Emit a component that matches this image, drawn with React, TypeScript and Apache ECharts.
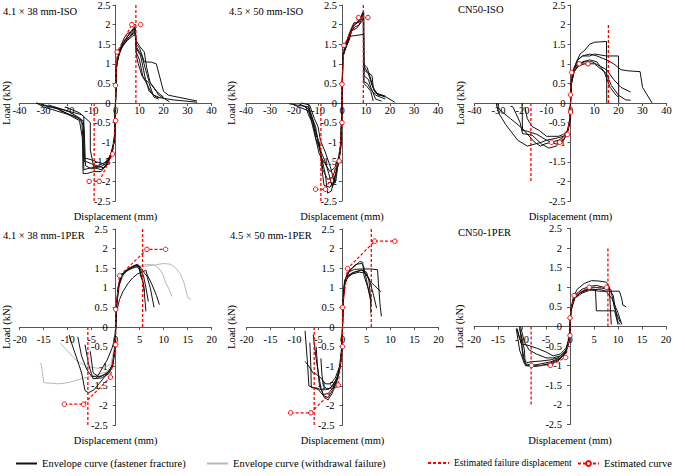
import { useEffect, useRef } from "react";
import * as echarts from "echarts";

const FONT = "'Liberation Serif', 'Times New Roman', serif";

const panelTitles = [
  "4.1 × 38 mm-ISO",
  "4.5 × 50 mm-ISO",
  "CN50-ISO",
  "4.1 × 38 mm-1PER",
  "4.5 × 50 mm-1PER",
  "CN50-1PER",
];

const FRACTURE = "Envelope curve (fastener fracture)";
const WITHDRAWAL = "Envelope curve (withdrawal failure)";
const FAILURE = "Estimated failure displacement";
const ESTIMATED = "Estimated curve";

// displacement range of the axes (mm) and tick step
const isoRange = [-40, 40, 10];
const perRange = [-20, 20, 5];
// load range (kN) and tick step
const loadRange = [-2.5, 2.5, 0.5];

// envelope curves, points are [displacement mm, load kN]
const iso41Curves = [
  [[0, 0], [0.4, 0.95], [1.5, 1.25], [3, 1.5], [5, 1.7], [7, 1.8], [8.3, 1.9], [8.6, 1.5], [10, 1.4], [12, 1.05], [15, 1.04], [17, 1.0], [20, 0.3], [22, 0.2], [34, 0.05]],
  [[0, 0], [0.3, 0.9], [1.5, 1.3], [3.5, 1.55], [5.5, 1.75], [8, 1.95], [8.5, 1.45], [11, 1.2], [13, 0.75], [14, 0.55], [16, 0.4], [18, 0.2], [22.5, 0.03]],
  [[0, 0], [0.5, 1.0], [2, 1.35], [4, 1.55], [6, 1.7], [8.2, 1.85], [8.6, 1.3], [10, 1.1], [11.5, 0.65], [13, 0.5], [15, 0.25], [17, 0.15], [24, 0.08], [34, 0.02]],
  [[0, 0], [0.3, 0.85], [1.2, 1.2], [3, 1.45], [5, 1.6], [7, 1.7], [8.4, 1.75], [8.7, 1.2], [9.5, 1.0], [11, 0.7], [12.5, 0.6], [14, 0.3], [16, 0.2], [18, 0.15]],
  [[0, 0], [0.4, 1.0], [1.5, 1.3], [3.5, 1.65], [5, 1.78], [6.5, 1.8], [8, 1.92], [8.5, 1.6], [10, 1.45], [12, 1.3], [13, 0.9], [14.5, 0.5], [17, 0.3], [20, 0.15]],
  [[0, 0], [0.5, 1.05], [2, 1.4], [4, 1.6], [6, 1.7], [8.3, 1.8], [8.6, 1.4], [10.5, 1.2], [12.5, 0.6], [14, 0.5], [16, 0.15], [18, 0.1]],
  [[0, 0], [-0.3, -0.8], [-1, -1.15], [-2.5, -1.4], [-4, -1.5], [-7, -1.6], [-10, -1.65], [-13.2, -1.7], [-13.5, -1.0], [-14, -0.5], [-16, -0.35], [-22, -0.25], [-30, -0.1], [-33, 0]],
  [[0, 0], [-0.4, -0.9], [-1.5, -1.25], [-3, -1.45], [-5, -1.55], [-8, -1.5], [-10, -1.45], [-13, -1.4], [-13.4, -0.6], [-14.5, -0.4], [-20, -0.2], [-28, -0.05]],
  [[0, 0], [-0.5, -1.0], [-2, -1.35], [-4, -1.6], [-6, -1.75], [-9, -1.75], [-12, -1.8], [-13.5, -1.8], [-13.8, -0.9], [-15, -0.45], [-18, -0.35], [-24, -0.15], [-31, -0.05]],
  [[0, 0], [-0.3, -0.85], [-1.2, -1.2], [-3, -1.5], [-5, -1.65], [-7, -1.62], [-10, -1.55], [-12, -1.5], [-13, -1.5], [-13.2, -0.35], [-15, -0.25], [-21, -0.1]],
  [[0, 0], [-0.5, -0.95], [-2, -1.3], [-4, -1.55], [-6, -1.62], [-10, -1.68], [-12.5, -1.6], [-13, -0.75], [-13.5, -0.45], [-19, -0.3], [-26, -0.1]],
  [[0, 0], [-0.4, -0.9], [-1.5, -1.3], [-3.5, -1.58], [-6, -1.7], [-9, -1.65], [-10.5, -1.2], [-10.5, -0.5], [-14, -0.3], [-33, 0]],
];

const iso45Curves = [
  [[0, 0], [0.3, 1.2], [1, 1.35], [3, 1.6], [4.5, 1.95], [6.5, 2.05], [8.8, 2.3], [9, 1.0], [10.5, 0.9], [12, 0.6], [13.5, 0.3], [16, 0.2], [18, 0.15]],
  [[0, 0], [0.4, 1.25], [1.5, 1.45], [3, 1.75], [5, 2.0], [7, 2.1], [9, 2.35], [9.1, 0.85], [11, 0.75], [12.5, 0.45], [14, 0.25], [17, 0.2], [22, 0.02]],
  [[0, 0], [0.3, 1.15], [1.2, 1.35], [3, 1.7], [9, 1.75], [9.1, 0.55], [10.5, 0.5], [12, 0.35], [14, 0.2], [18, 0.1]],
  [[0, 0], [0.4, 1.2], [1.5, 1.4], [3.5, 1.8], [5.5, 1.95], [7, 1.98], [9, 2.25], [9.1, 0.95], [10.5, 0.8], [12.5, 0.7], [13, 0.4], [15, 0.2], [18, 0.18]],
  [[0, 0], [0.3, 1.2], [1, 1.3], [2.5, 1.55], [4, 1.85], [6, 1.9], [8.5, 2.1], [9, 2.2], [9.1, 0.7], [11, 0.6], [12, 0.4], [14, 0.1], [16.5, 0.05]],
  [[0, 0], [0.35, 1.25], [1.5, 1.5], [3.5, 1.85], [5, 2.05], [7, 2.05], [9, 2.3], [9.1, 0.5], [10, 0.45], [12, 0.3], [13, 0.05]],
  [[0, 0], [-0.5, -1.1], [-1.5, -1.55], [-3, -1.9], [-4.5, -2.25], [-6, -2.3], [-7, -1.8], [-8.5, -1.4], [-10, -1.0], [-11, -0.6], [-13, -0.3], [-14, -0.1], [-22, -0.02]],
  [[0, 0], [-0.4, -1.0], [-1.2, -1.45], [-2.5, -1.8], [-4, -2.15], [-5.5, -1.8], [-7, -1.5], [-9, -1.2], [-10.5, -0.8], [-12, -0.5], [-14, -0.2], [-20, -0.05]],
  [[0, 0], [-0.5, -1.05], [-1.5, -1.5], [-2.5, -1.95], [-3, -2.05], [-5, -1.6], [-7, -1.25], [-9, -0.95], [-10, -0.6], [-11.5, -0.4], [-13.5, -0.05], [-17, 0]],
  [[0, 0], [-0.4, -1.0], [-1.3, -1.5], [-2.8, -1.7], [-4, -1.9], [-6, -1.95], [-8, -1.7], [-9.5, -1.0], [-11, -0.8], [-12, -0.55], [-14, -0.3], [-15, -0.1], [-18, -0.02]],
  [[0, 0], [-0.5, -1.15], [-1.8, -1.6], [-3.5, -2.0], [-5, -2.15], [-7.5, -2.1], [-8.5, -1.6], [-9, -1.2], [-11, -0.9], [-13, -0.4], [-14, -0.15], [-16, -0.08]],
  [[0, 0], [-0.4, -1.0], [-1.5, -1.4], [-3, -1.65], [-5, -1.75], [-7, -1.55], [-9.5, -1.3], [-11, -0.9], [-12, -0.45], [-14, -0.05]],
];

const isoCn50Curves = [
  [[0, 0], [0.3, 0.55], [1, 0.8], [2.5, 1.05], [4, 1.25], [6, 1.35], [8, 1.5], [10, 1.55], [15, 1.57], [15.1, 0]],
  [[0, 0], [0.3, 0.5], [1, 0.75], [3, 1.1], [5, 1.2], [8, 1.2], [10, 1.25], [15, 1.2], [20, 1.2], [20.1, 0]],
  [[0, 0], [0.3, 0.55], [1.5, 0.9], [3, 1.1], [5, 1.2], [8, 1.25], [11, 1.2], [15, 1.1], [18, 1.0], [21, 0.85], [24, 0.82], [29, 0.8], [30, 0.4], [34, 0]],
  [[0, 0], [0.4, 0.5], [1.5, 0.85], [3, 1.0], [6, 1.05], [9, 1.05], [12, 0.95], [15, 0.85], [18, 0.6], [21, 0.4], [25, 0.28]],
  [[0, 0], [0.3, 0.45], [1.5, 0.8], [3.5, 0.95], [6, 1.0], [10, 1.0], [13, 0.85], [15, 0.75], [17, 0.45], [20, 0.2], [23, 0.08], [25, 0.07]],
  [[0, 0], [0.3, 0.5], [1.5, 0.8], [3, 0.95], [5, 1.05], [8, 1.1], [11, 1.05], [14, 0.8], [16.5, 0.4], [19, 0.2], [20, 0.15]],
  [[0, 0], [-0.3, -0.5], [-1, -0.7], [-2.5, -0.85], [-5, -0.95], [-8, -1.0], [-11, -1.05], [-12.5, -1.1], [-15, -1.0], [-20, -0.65], [-25, -0.4], [-30, -0.15], [-30.3, 0]],
  [[0, 0], [-0.3, -0.45], [-1.5, -0.75], [-3, -0.85], [-6, -0.9], [-10, -0.95], [-14, -0.8], [-18, -0.72], [-20, -0.7], [-20.2, 0]],
  [[0, 0], [-0.4, -0.5], [-1.5, -0.8], [-3, -0.95], [-6, -1.1], [-9, -1.15], [-12, -1.05], [-16, -0.82], [-20, -0.78], [-21, -0.5], [-24, -0.1], [-25, -0.08]],
  [[0, 0], [-0.3, -0.5], [-1.2, -0.7], [-3, -0.8], [-5, -0.85], [-8, -0.85], [-10, -0.85], [-13, -0.7], [-16, -0.6], [-18, -0.4], [-19, -0.1]],
  [[0, 0], [-0.4, -0.5], [-1.5, -0.8], [-3, -0.95], [-6, -1.05], [-8, -1.0], [-10, -0.95], [-12, -1.0], [-15, -1.05], [-18, -1.1], [-22, -0.95], [-27, -0.55], [-30, -0.25], [-31, 0]],
];

const per41Curves = [
  [[0, 0], [0.15, 0.5], [0.5, 1.0], [1, 1.25], [2, 1.42], [3, 1.5], [4, 1.55], [4.8, 1.58], [5.2, 1.3], [5.8, 1.1], [6.3, 0.4]],
  [[0, 0], [0.2, 0.6], [0.6, 1.1], [1.3, 1.35], [2.5, 1.48], [3.5, 1.55], [4.5, 1.6], [5, 1.5], [5.8, 1.3], [6.3, 1.0], [6.8, 0.65]],
  [[0, 0], [0.15, 0.5], [0.5, 1.0], [1.2, 1.3], [2.5, 1.45], [3.8, 1.52], [5, 1.55], [5.5, 1.45], [6.5, 1.3], [7.2, 1.0], [8, 0.5]],
  [[0, 0], [0.1, 0.35], [0.8, 0.7], [1.5, 0.9], [2.5, 1.1], [3.5, 1.25], [4.5, 1.35], [5.5, 1.4], [6.3, 1.45], [6.5, 1.35], [7.5, 1.1], [8.5, 0.8], [9.1, 0.57]],
  [[0, 0], [0.2, 0.55], [0.7, 1.05], [1.5, 1.35], [3, 1.5], [4.3, 1.58], [5, 1.45], [5.6, 1.2], [6, 0.9]],
  [[0, 0], [-0.1, -0.5], [-0.5, -0.9], [-1.2, -1.1], [-2.5, -1.3], [-3.5, -1.45], [-4.5, -1.6], [-5.7, -1.68], [-6.4, -1.62], [-7.1, -1.17], [-8.5, -0.66], [-9.5, -0.3], [-9.7, -0.2]],
  [[0, 0], [-0.1, -0.45], [-0.6, -0.95], [-1.5, -1.15], [-3, -1.25], [-4, -1.27], [-5, -1.26], [-6, -1.09], [-7.1, -0.75], [-7.9, -0.25]],
  [[0, 0], [-0.1, -0.5], [-0.6, -1.0], [-1.5, -1.2], [-3, -1.3], [-4.7, -1.32], [-5.3, -1.1], [-5.7, -0.92], [-6.4, -0.45]],
  [[0, 0], [-0.15, -0.5], [-0.7, -1.0], [-2, -1.2], [-3.5, -1.28], [-4.7, -1.17], [-5.3, -0.62]],
  [[0, 0], [-0.2, -0.3], [-0.8, -0.55], [-1.8, -0.85], [-2.8, -1.05], [-3.5, -1.2], [-4, -1.3]],
];

const per41Withdrawal = [
  [[0, 0], [0.2, 0.6], [0.7, 1.1], [1.5, 1.35], [3, 1.48], [5, 1.55], [6.5, 1.6], [8, 1.58], [9, 1.5], [9.8, 1.35], [10.5, 1.1], [11, 1.0], [11.7, 0.78]],
  [[0, 0], [0.2, 0.55], [0.8, 1.1], [2, 1.4], [4, 1.52], [6, 1.55], [8, 1.58], [10, 1.62], [11.5, 1.6], [12.5, 1.5], [13.5, 1.35], [14.3, 1.1], [15, 0.75], [15.7, 0.7]],
  [[0, 0], [-0.3, -0.6], [-1, -1.0], [-2, -1.15], [-3.5, -1.2], [-5, -1.25], [-6.5, -1.3], [-8, -1.35], [-10, -1.42], [-12, -1.45], [-15, -1.42], [-15.5, -0.95], [-15.8, -0.92]],
  [[0, 0], [-0.3, -0.55], [-1, -0.95], [-2.5, -1.05], [-4, -1.05], [-6, -1.0], [-8, -0.88], [-9, -0.75], [-10.5, -0.55], [-11.6, -0.41]],
];

const per45Curves = [
  [[0, 0], [0.1, 0.6], [0.4, 1.1], [1, 1.3], [2, 1.38], [3, 1.42], [4, 1.45], [5, 1.4], [5.5, 1.2], [5.8, 0.8], [5.9, 0.35]],
  [[0, 0], [0.1, 0.65], [0.4, 1.15], [1, 1.35], [2, 1.5], [3, 1.6], [3.6, 1.67], [4.2, 1.65], [4.5, 1.3], [5.3, 1.0], [6, 0.6]],
  [[0, 0], [0.1, 0.6], [0.5, 1.2], [1.2, 1.4], [2.5, 1.47], [4, 1.48], [6, 1.48], [7.3, 1.46], [7.5, 1.1], [7.8, 0.6], [8.1, 0.27]],
  [[0, 0], [0.15, 0.7], [0.5, 1.15], [1.2, 1.3], [2.5, 1.4], [4, 1.45], [5, 1.35], [5.5, 1.2], [6.7, 1.05], [8, 0.9]],
  [[0, 0], [0.1, 0.55], [0.4, 1.05], [1, 1.25], [2, 1.35], [3.5, 1.4], [4.5, 1.38], [5.5, 1.25], [6.5, 0.8], [7.1, 0.48]],
  [[0, 0], [0.1, 0.6], [0.5, 1.15], [1.5, 1.45], [2.8, 1.6], [4, 1.62], [4.4, 1.55], [5, 1.2], [5.5, 0.9], [6, 0.7]],
  [[0, 0], [-0.1, -0.5], [-0.4, -0.95], [-1, -1.3], [-2, -1.6], [-3, -1.8], [-4, -1.75], [-5, -1.6], [-6, -1.55], [-7, -1.5], [-7.3, -0.9], [-7.8, -0.1]],
  [[0, 0], [-0.1, -0.55], [-0.5, -1.0], [-1.2, -1.4], [-2.2, -1.7], [-3, -1.86], [-3.8, -1.8], [-4.5, -1.55], [-5, -1.2], [-5.5, -0.8], [-6.1, -0.2]],
  [[0, 0], [-0.1, -0.5], [-0.5, -1.05], [-1.3, -1.35], [-2.5, -1.55], [-3.5, -1.6], [-4.5, -1.6], [-5.5, -1.55], [-6.5, -1.55], [-6.6, -1.0], [-6.8, -0.4]],
  [[0, 0], [-0.1, -0.45], [-0.6, -1.0], [-1.5, -1.3], [-2.5, -1.45], [-3.5, -1.45], [-4.5, -1.3], [-5.5, -1.2], [-6.1, -1.18], [-7, -1.0], [-7.8, -0.88]],
  [[0, 0], [-0.1, -0.5], [-0.5, -1.0], [-1.2, -1.35], [-2, -1.55], [-3, -1.7], [-4, -1.72], [-4.8, -1.5], [-5.2, -1.0], [-5.5, -0.5]],
  [[0, 0], [-0.1, -0.5], [-0.4, -0.9], [-1, -1.25], [-2, -1.5], [-3, -1.6], [-4, -1.5], [-4.3, -1.2], [-4.5, -0.8]],
];

const perCn50Curves = [
  [[0, 0], [0.2, 0.45], [0.7, 0.75], [1.5, 0.95], [3, 1.1], [4.5, 1.17], [6, 1.16], [7.6, 1.13], [8.2, 1.0], [8.4, 0.5], [8.6, 0.05]],
  [[0, 0], [0.2, 0.4], [0.8, 0.7], [2, 0.85], [4, 0.95], [6, 0.9], [8, 0.9], [10.3, 0.9], [10.8, 0.7], [11, 0.55], [11.7, 0.5]],
  [[0, 0], [0.2, 0.45], [1, 0.75], [2.5, 0.9], [4, 0.95], [5.3, 0.95], [5.5, 0.4], [7, 0.4], [9.3, 0.4], [10, 0.05]],
  [[0, 0], [0.15, 0.4], [0.8, 0.7], [2, 0.85], [3.5, 0.95], [5, 1.0], [6.5, 0.98], [8, 0.95], [9, 0.8], [9.5, 0.4], [10, 0.1], [10.5, 0.05]],
  [[0, 0], [0.2, 0.45], [1, 0.8], [2.5, 0.95], [4, 1.02], [5.5, 1.05], [7, 1.0], [8.5, 0.95], [9.2, 0.5], [9.8, 0.3], [10.5, 0.1]],
  [[0, 0], [0.2, 0.4], [1, 0.72], [2.5, 0.85], [4, 0.92], [6, 0.95], [7.5, 0.9], [8.8, 0.7], [10, 0.35], [10.8, 0.05]],
  [[0, 0], [-0.2, -0.35], [-0.8, -0.65], [-2, -0.8], [-4, -0.9], [-6, -0.95], [-8, -1.0], [-9.3, -1.0], [-9.5, -0.6], [-10, -0.3], [-10.5, -0.05]],
  [[0, 0], [-0.2, -0.4], [-1, -0.7], [-2.5, -0.85], [-4.5, -0.95], [-7, -1.02], [-9, -1.0], [-9.5, -0.9], [-10, -0.5], [-11, -0.1]],
  [[0, 0], [-0.2, -0.3], [-0.8, -0.55], [-2, -0.7], [-3.5, -0.75], [-5, -0.65], [-7, -0.55], [-9, -0.47], [-10, -0.45], [-10.5, -0.3], [-11, -0.05]],
  [[0, 0], [-0.2, -0.35], [-1, -0.65], [-2.5, -0.8], [-4, -0.85], [-6, -0.88], [-8, -0.9], [-9, -0.92], [-9.8, -0.8], [-10.2, -0.3], [-10.5, 0]],
  [[0, 0], [-0.2, -0.35], [-1, -0.7], [-2.5, -0.88], [-4, -0.95], [-6, -1.0], [-8, -0.98], [-9.5, -0.95], [-10.5, -0.6], [-11.2, -0.05]],
  [[0, 0], [-0.2, -0.3], [-0.8, -0.6], [-2, -0.75], [-3.5, -0.8], [-5, -0.8], [-7, -0.7], [-8.5, -0.6], [-9.5, -0.4], [-10, -0.15], [-10.3, 0]],
];

// estimated (idealised) curves
const iso41Estimated = [[-11, -2.0], [-6.8, -2.0], [-1.2, -1.3], [0, -0.45], [0, 0.45], [0.7, 1.3], [6.8, 2.0], [10.5, 2.0]];
const iso45Estimated = [[-11, -2.2], [-6.9, -2.2], [-1.2, -1.48], [0, -0.5], [0, 0.48], [0.8, 1.47], [6.8, 2.18], [10.8, 2.18]];
const isoCn50Estimated = [[-7.9, -1.0], [-4.5, -1.0], [-1.3, -0.8], [0, -0.23], [0, 0.21], [0.5, 0.78], [3.6, 1.0], [7.3, 1.0]];
const per41Estimated = [[-10.7, -1.97], [-6.7, -1.97], [-1.1, -1.28], [0, -0.45], [0, 0.45], [0.8, 1.31], [6.5, 1.98], [10.4, 1.98]];
const per45Estimated = [[-10.8, -2.19], [-6.6, -2.19], [-0.9, -1.48], [0, -0.5], [0, 0.5], [1.05, 1.49], [6.7, 2.19], [10.9, 2.19]];
const perCn50Estimated = [[-8.0, -0.99], [-4.1, -0.99], [-0.9, -0.79], [0, -0.23], [0, 0.22], [0.85, 0.79], [4.0, 1.0], [7.6, 1.0]];

// estimated failure displacements (mm) [negative, positive] and the height of their marker lines (kN)
const iso41Failure = [-8.9, 8.5];
const iso45Failure = [-8.8, 8.9];
const isoCn50Failure = [-16.5, 15.8];
const per41Failure = [-5.8, 5.6];
const per45Failure = [-5.9, 6.0];
const perCn50Failure = [-8.1, 7.9];
const failureHeights = [2.5, 2.5, 2, 2.5, 2.5, 2];

const App = () => {
  const chartRef = useRef(null);

  useEffect(() => {
    const chart = echarts.init(chartRef.current, null, { renderer: "svg" });

    const panels = [
      { curves: iso41Curves, grey: [], est: iso41Estimated, fail: iso41Failure, range: isoRange },
      { curves: iso45Curves, grey: [], est: iso45Estimated, fail: iso45Failure, range: isoRange },
      { curves: isoCn50Curves, grey: [], est: isoCn50Estimated, fail: isoCn50Failure, range: isoRange },
      { curves: per41Curves, grey: per41Withdrawal, est: per41Estimated, fail: per41Failure, range: perRange },
      { curves: per45Curves, grey: [], est: per45Estimated, fail: per45Failure, range: perRange },
      { curves: perCn50Curves, grey: [], est: perCn50Estimated, fail: perCn50Failure, range: perRange },
    ];

    // plot boxes in pixels
    const boxes = [
      { left: 19.5, top: 5 },
      { left: 246, top: 5 },
      { left: 474.5, top: 5 },
      { left: 19.7, top: 229 },
      { left: 246.5, top: 229 },
      { left: 474, top: 228.5 },
    ];
    const W = 192;
    const H = 196;
    const titleX = [3, 229, 458, 3, 230, 458];
    const titleY = [11.5, 11.5, 9, 235, 235, 232.5];
    const loadX = [6, 231.5, 460, 6, 231.5, 459.5];

    const series: any[] = [];
    const graphic: any[] = [];
    const txt = (align: string) => ({
      font: `10.5px ${FONT}`, fill: "#000",
      align, verticalAlign: "middle", textAlign: align, textVerticalAlign: "middle",
    });

    panels.forEach((p, i) => {
      p.grey.forEach((c) =>
        series.push({
          name: WITHDRAWAL, type: "line", xAxisIndex: i, yAxisIndex: i, data: c,
          symbol: "none", color: "#b8b8b8", lineStyle: { width: 1 }, z: 2,
        })
      );
      p.curves.forEach((c) =>
        series.push({
          name: FRACTURE, type: "line", xAxisIndex: i, yAxisIndex: i, data: c,
          symbol: "none", color: "#111", lineStyle: { width: 1 }, z: 3,
        })
      );
      p.fail.forEach((x) => {
        const h = failureHeights[i] * Math.sign(x);
        series.push({
          name: FAILURE, type: "line", xAxisIndex: i, yAxisIndex: i, data: [[x, 0], [x, h]],
          symbol: "none", color: "#ff0000", lineStyle: { width: 1.3, type: [3, 2] }, z: 4,
        });
      });
      series.push({
        name: ESTIMATED, type: "line", xAxisIndex: i, yAxisIndex: i, data: p.est,
        symbol: "circle", symbolSize: 4.5, showAllSymbol: true, color: "#ff0000",
        lineStyle: { color: "#ff0000", width: 1.2, type: [3, 2] },
        itemStyle: { color: "#fff", borderColor: "#ff0000", borderWidth: 1 }, z: 5,
      });

      const b = boxes[i];
      graphic.push({ type: "text", x: titleX[i], y: titleY[i], style: { text: panelTitles[i], ...txt("left") } });
      graphic.push({
        type: "text", x: loadX[i], y: b.top + H / 2, rotation: Math.PI / 2,
        style: { text: "Load (kN)", ...txt("center") },
      });
      graphic.push({
        type: "text", x: b.left + W / 2, y: i < 3 ? 216 : 440,
        style: { text: "Displacement (mm)", ...txt("center") },
      });
    });

    const axisLine = { onZero: false, lineStyle: { color: "#555", width: 1 } };
    const axisTick = { show: true, length: 3, lineStyle: { color: "#555" } };

    const option = {
      animation: false,
      backgroundColor: "#fff",
      textStyle: { fontFamily: FONT },
      grid: boxes.map((b) => ({
        left: b.left, top: b.top, width: W, height: H,
        containLabel: false, outerBoundsMode: "none",
      })),
      // axes are shifted onto the zero lines with offset
      xAxis: panels.map((p, i) => ({
        type: "value", gridIndex: i, position: "bottom", offset: -H / 2,
        min: p.range[0], max: p.range[1], interval: p.range[2],
        axisLine, axisTick,
        splitLine: { show: false },
        axisLabel: { color: "#000", fontSize: 10.5, fontFamily: FONT, margin: i < 3 ? 2 : 7 },
      })),
      yAxis: panels.map((p, i) => ({
        type: "value", gridIndex: i, position: "left", offset: -W / 2,
        min: loadRange[0], max: loadRange[1], interval: loadRange[2],
        axisLine, axisTick,
        splitLine: { show: false },
        axisLabel: { color: "#000", fontSize: 10.5, fontFamily: FONT, margin: i < 3 ? 5 : 8 },
      })),
      legend: [
        { name: FRACTURE, left: 15, size: 10.5 },
        { name: WITHDRAWAL, left: 206, size: 10.5 },
        { name: FAILURE, left: 427, size: 9.5 },
        { name: ESTIMATED, left: 577, size: 10.5 },
      ].map((l) => ({
        data: [l.name === ESTIMATED ? { name: l.name } : { name: l.name, itemStyle: { opacity: 0 } }],
        left: l.left, top: 458, padding: 0, itemGap: 0, itemWidth: 21, itemHeight: 6,
        textStyle: { fontFamily: FONT, fontSize: l.size, color: "#000" },
        selectedMode: false,
      })),
      graphic,
      series,
    };

    chart.setOption(option);

    return () => {
      chart.dispose();
    };
  }, []);

  return <div ref={chartRef} style={{ position: "absolute", left: 0, top: 0, width: 685, height: 476 }}></div>;
};

export default App;
